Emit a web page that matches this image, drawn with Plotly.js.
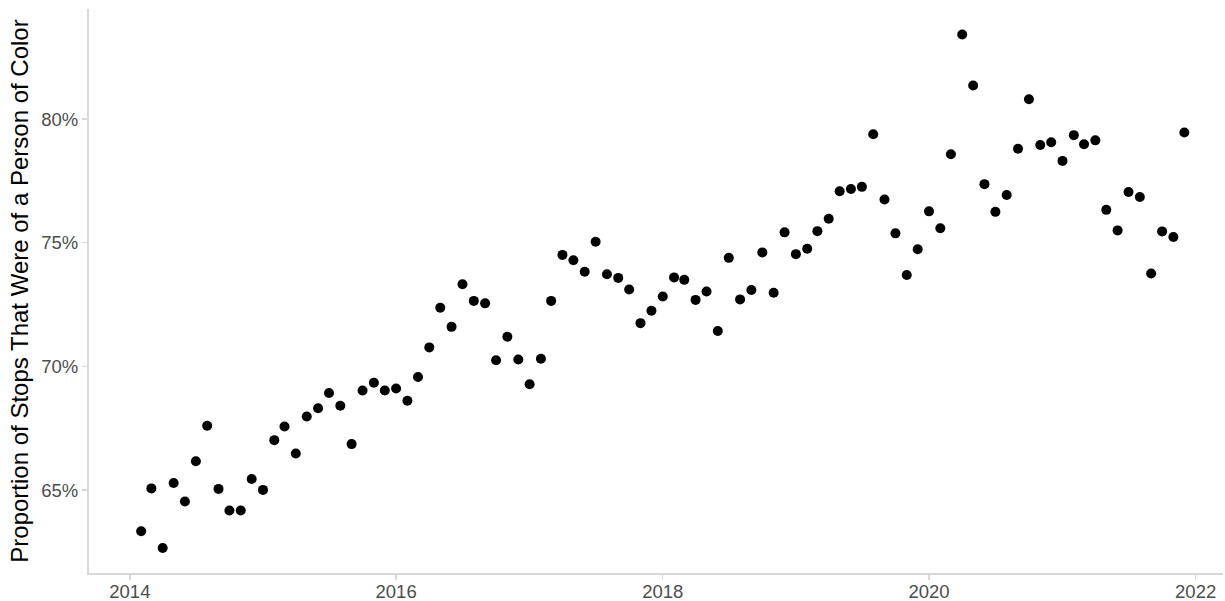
<!DOCTYPE html>
<html>
<head>
<meta charset="utf-8">
<script src="https://cdn.plot.ly/plotly-3.0.1.min.js"></script>
<style>html,body{margin:0;padding:0;background:#fff;}#chart{width:1225px;height:601px;}</style>
</head>
<body>
<div id="chart"></div>
<script>
// Monthly observations, Feb 2014 – Dec 2021
const months = [
  "2014-02-01","2014-03-01","2014-04-01","2014-05-01","2014-06-01","2014-07-01","2014-08-01","2014-09-01","2014-10-01","2014-11-01","2014-12-01",
  "2015-01-01","2015-02-01","2015-03-01","2015-04-01","2015-05-01","2015-06-01","2015-07-01","2015-08-01","2015-09-01","2015-10-01","2015-11-01","2015-12-01",
  "2016-01-01","2016-02-01","2016-03-01","2016-04-01","2016-05-01","2016-06-01","2016-07-01","2016-08-01","2016-09-01","2016-10-01","2016-11-01","2016-12-01",
  "2017-01-01","2017-02-01","2017-03-01","2017-04-01","2017-05-01","2017-06-01","2017-07-01","2017-08-01","2017-09-01","2017-10-01","2017-11-01","2017-12-01",
  "2018-01-01","2018-02-01","2018-03-01","2018-04-01","2018-05-01","2018-06-01","2018-07-01","2018-08-01","2018-09-01","2018-10-01","2018-11-01","2018-12-01",
  "2019-01-01","2019-02-01","2019-03-01","2019-04-01","2019-05-01","2019-06-01","2019-07-01","2019-08-01","2019-09-01","2019-10-01","2019-11-01","2019-12-01",
  "2020-01-01","2020-02-01","2020-03-01","2020-04-01","2020-05-01","2020-06-01","2020-07-01","2020-08-01","2020-09-01","2020-10-01","2020-11-01","2020-12-01",
  "2021-01-01","2021-02-01","2021-03-01","2021-04-01","2021-05-01","2021-06-01","2021-07-01","2021-08-01","2021-09-01","2021-10-01","2021-11-01","2021-12-01"
];
// Proportion of stops that were of a person of color (percent)
const proportionPOC = [
  63.34,65.07,62.66,65.29,64.54,66.17,67.60,65.05,64.18,64.18,65.45,
  65.01,67.02,67.57,66.48,67.98,68.31,68.93,68.41,66.86,69.03,69.34,69.03,
  69.11,68.61,69.57,70.77,72.37,71.60,73.32,72.65,72.55,70.25,71.20,70.28,
  69.28,70.31,72.65,74.51,74.29,73.83,75.04,73.73,73.58,73.11,71.75,72.25,
  72.83,73.60,73.50,72.69,73.03,71.43,74.39,72.71,73.09,74.61,72.98,75.42,
  74.54,74.76,75.47,75.97,77.08,77.17,77.26,79.39,76.75,75.38,73.70,74.74,
  76.27,75.59,78.58,83.42,81.36,77.37,76.25,76.93,78.80,80.80,78.95,79.06,
  78.31,79.35,78.98,79.14,76.33,75.50,77.05,76.85,73.76,75.46,75.23,79.46
];
const yTickVals = [65, 70, 75, 80];
const yTickText = ["65%", "70%", "75%", "80%"];
const xTickVals = ["2014-01-01","2016-01-01","2018-01-01","2020-01-01","2022-01-01"];
const xTickText = ["2014","2016","2018","2020","2022"];
const yTitle = "Proportion of Stops That Were of a Person of Color";

const trace = {
  type: "scatter",
  mode: "markers",
  x: months,
  y: proportionPOC,
  marker: {color: "#000000", size: 10, line: {width: 0}},
  hoverinfo: "x+y"
};

const FONT = "Liberation Sans, Arial, sans-serif";
const axisCommon = {
  showgrid: false,
  zeroline: false,
  showline: true,
  linecolor: "#d9d9d9",
  linewidth: 2,
  ticks: "outside",
  ticklen: 5,
  tickwidth: 1.3,
  tickcolor: "#d9d9d9",
  tickfont: {family: FONT, size: 18.5, color: "#4d4d4d"}
};

const layout = {
  width: 1225,
  height: 601,
  margin: {l: 89, r: 2, t: 9, b: 28},
  paper_bgcolor: "#ffffff",
  plot_bgcolor: "#ffffff",
  showlegend: false,
  font: {family: FONT},
  xaxis: Object.assign({}, axisCommon, {
    type: "date",
    range: ["2013-09-11", "2022-03-17"],
    tickmode: "array",
    tickvals: xTickVals,
    ticktext: xTickText,
    ticklabelstandoff: -4,
    automargin: false
  }),
  yaxis: Object.assign({}, axisCommon, {
    range: [61.65, 84.45],
    tickmode: "array",
    tickvals: yTickVals,
    ticktext: yTickText,
    automargin: false,
    title: {text: yTitle, font: {family: FONT, size: 24, color: "#000000"}, standoff: 6}
  })
};

Plotly.newPlot("chart", [trace], layout, {displayModeBar: false, staticPlot: true});
</script>
</body>
</html>
